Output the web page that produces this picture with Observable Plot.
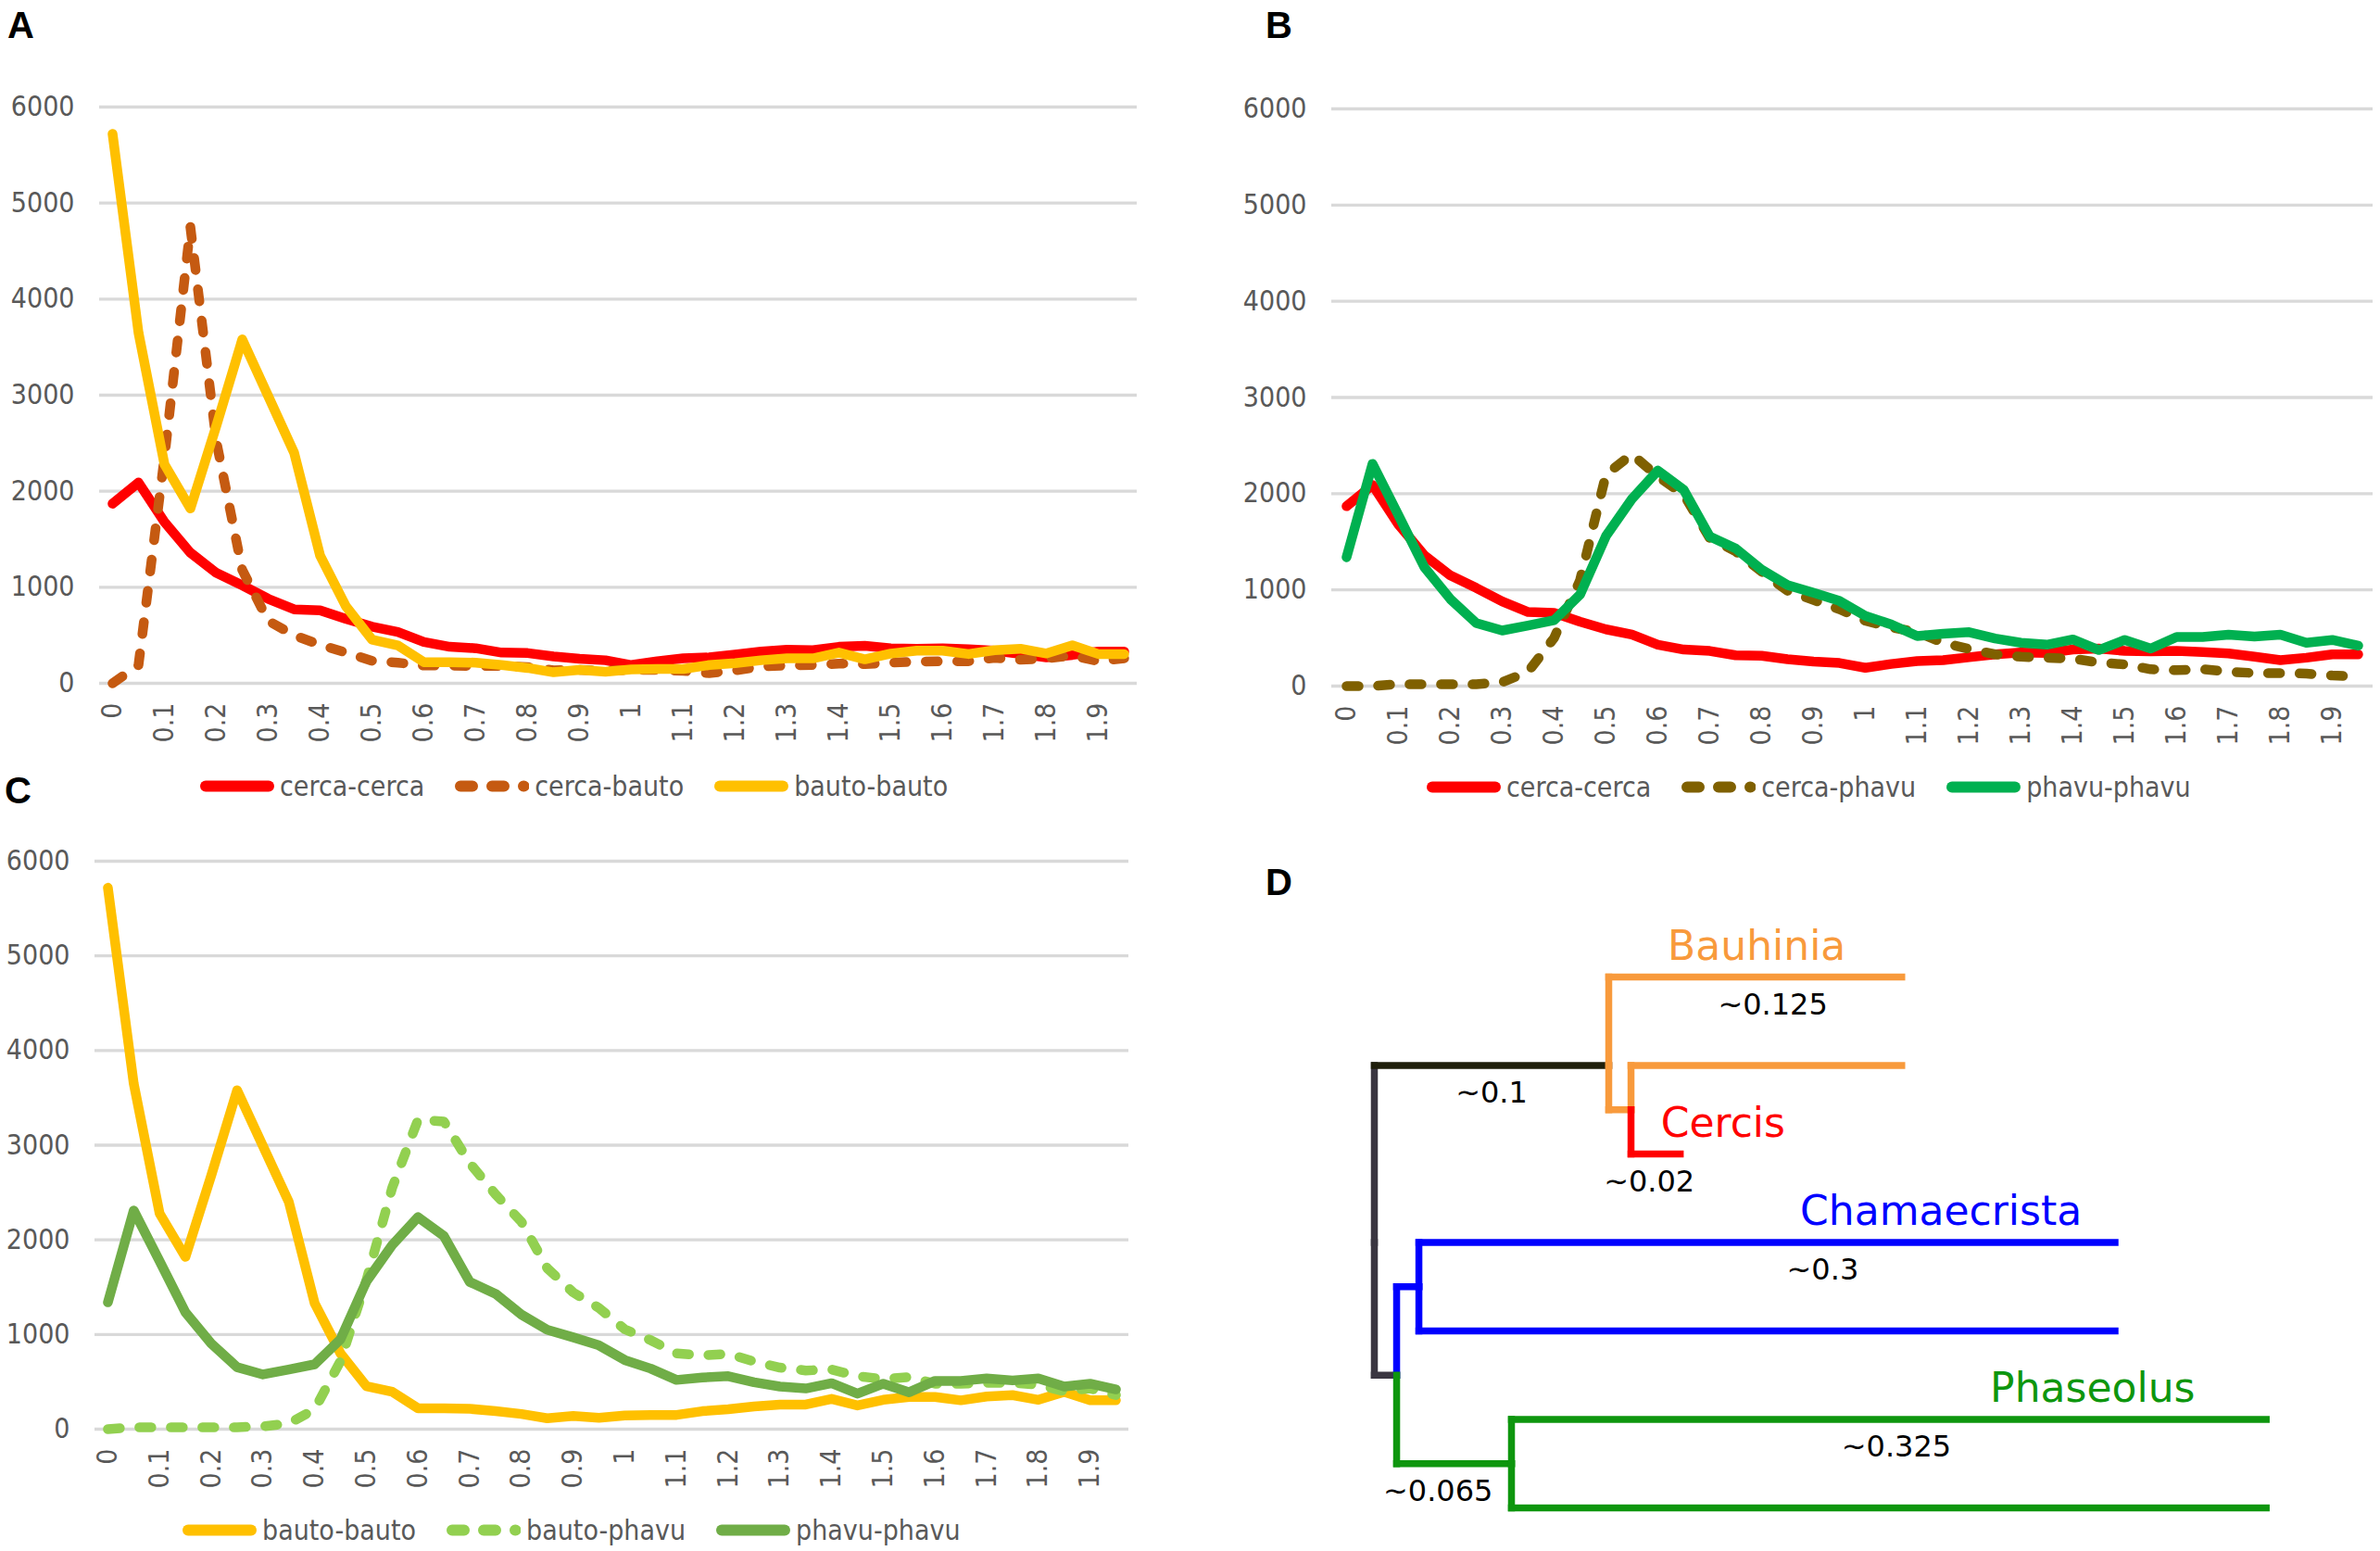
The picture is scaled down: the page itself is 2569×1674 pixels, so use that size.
<!DOCTYPE html>
<html><head><meta charset="utf-8">
<script src="https://cdn.jsdelivr.net/npm/d3@7"></script>
<script src="https://cdn.jsdelivr.net/npm/@observablehq/plot@0.6"></script>
<style>
body{margin:0;background:#fff;}
#fig{position:relative;width:2569px;height:1674px;overflow:hidden;background:#fff;}
.panel{position:absolute;}
.letter{position:absolute;font-family:"Liberation Sans",Arial,sans-serif;font-weight:bold;font-size:40px;line-height:1;color:#000;}
.legend{position:absolute;display:flex;align-items:center;gap:33px;transform:translateY(-50%);font-family:"DejaVu Sans Condensed","DejaVu Sans",sans-serif;font-stretch:condensed;font-size:30px;color:#595959;white-space:nowrap;}
.item{display:flex;align-items:center;gap:6px;}
.item svg{display:block;}
</style></head><body><div id="fig"></div>
<script>
// ---------- data ----------
const distances = [0,0.05,0.1,0.15,0.2,0.25,0.3,0.35,0.4,0.45,0.5,0.55,0.6,0.65,0.7,0.75,0.8,0.85,0.9,0.95,1,1.05,1.1,1.15,1.2,1.25,1.3,1.35,1.4,1.45,1.5,1.55,1.6,1.65,1.7,1.75,1.8,1.85,1.9,1.95];
const xTickLabels = ["0","0.1","0.2","0.3","0.4","0.5","0.6","0.7","0.8","0.9","1","1.1","1.2","1.3","1.4","1.5","1.6","1.7","1.8","1.9"];
const yTicks = [0,1000,2000,3000,4000,5000,6000];
const yTickLabels = ["0","1000","2000","3000","4000","5000","6000"];

const cercaCerca = [1870,2090,1680,1360,1150,1020,880,770,760,670,590,535,430,380,365,320,315,280,255,240,190,230,260,270,300,330,350,345,380,390,365,360,365,355,340,305,270,295,330,330];
const cercaBauto = [0,190,2350,4750,2520,1180,650,500,400,320,235,215,185,185,180,180,170,135,140,130,140,140,130,105,135,175,185,190,205,200,215,225,230,230,265,245,260,290,230,260];
const bautoBauto = [5720,3650,2280,1820,2680,3580,2990,2400,1330,800,455,395,220,220,215,190,160,115,140,120,145,150,150,190,210,240,260,260,320,250,310,340,340,305,345,360,310,395,305,305];
const cercaPhavu = [0,0,20,20,20,20,40,150,500,1100,2200,2410,2180,1990,1540,1400,1190,990,895,800,680,610,560,450,385,330,305,295,285,245,225,175,165,175,150,135,135,130,110,98];
const phavuPhavu = [1340,2310,1775,1235,905,655,578,630,685,950,1560,1945,2240,2040,1555,1430,1210,1050,970,885,730,640,520,545,560,495,450,430,485,375,480,390,510,510,535,515,535,450,480,420];
const bautoPhavu = [0,20,20,20,20,20,30,60,210,720,1570,2550,3270,3250,2810,2480,2190,1700,1445,1280,1055,940,800,780,795,715,650,620,630,560,530,550,480,480,490,490,470,400,430,360];

const panelLetters = ["A","B","C","D"];
const seriesNames = {
  A: ["cerca-cerca","cerca-bauto","bauto-bauto"],
  B: ["cerca-cerca","cerca-phavu","phavu-phavu"],
  C: ["bauto-bauto","bauto-phavu","phavu-phavu"]
};

// tree: branch lengths as drawn (schematic phylogram)
const treeNodes = [
  {id:"root",      parent:null,   len:0,      clade:"stem"},
  {id:"BC",        parent:"root", len:0.1,    clade:"stemUpper"},
  {id:"Bauhinia1", parent:"BC",   len:0.125,  clade:"bauhinia"},
  {id:"BC2",       parent:"BC",   len:0.0095, clade:"bauhinia"},
  {id:"Bauhinia2", parent:"BC2",  len:0.1155, clade:"bauhinia"},
  {id:"Cercis",    parent:"BC2",  len:0.021,  clade:"cercis"},
  {id:"CP",        parent:"root", len:0.0095, clade:"stem"},
  {id:"Cham",      parent:"CP",   len:0.0095, clade:"chamaecrista"},
  {id:"Cham1",     parent:"Cham", len:0.297,  clade:"chamaecrista"},
  {id:"Cham2",     parent:"Cham", len:0.297,  clade:"chamaecrista"},
  {id:"Phas",      parent:"CP",   len:0.049,  clade:"phaseolus"},
  {id:"Phas1",     parent:"Phas", len:0.322,  clade:"phaseolus"},
  {id:"Phas2",     parent:"Phas", len:0.322,  clade:"phaseolus"}
];
const treeLabels = [
  {node:"Bauhinia1", text:"Bauhinia",     kind:"name"},
  {node:"Bauhinia1", text:"~0.125",       kind:"length"},
  {node:"BC",        text:"~0.1",         kind:"length"},
  {node:"Cercis",    text:"Cercis",       kind:"name"},
  {node:"Cercis",    text:"~0.02",        kind:"length"},
  {node:"Cham1",     text:"Chamaecrista", kind:"name"},
  {node:"Cham1",     text:"~0.3",         kind:"length"},
  {node:"Phas1",     text:"Phaseolus",    kind:"name"},
  {node:"Phas1",     text:"~0.325",       kind:"length"},
  {node:"Phas",      text:"~0.065",       kind:"length"}
];

// ---------- styles ----------
const chartFont = "'DejaVu Sans Condensed','DejaVu Sans',sans-serif";
const lineStyles = {
  "cerca-cerca": {stroke:"#ff0000"},
  "cerca-bauto": {stroke:"#c55a11", dash:"13,21"},
  "bauto-bauto": {stroke:"#ffc000"},
  "cerca-phavu": {stroke:"#7f6000", dash:"13,21"},
  "phavu-phavu-B": {stroke:"#00b050"},
  "bauto-phavu": {stroke:"#92d050", dash:"13,21"},
  "phavu-phavu-C": {stroke:"#70ad47"}
};
const cladeColors = {
  stem:{v:"#3a3641",h:"#3a3641"},
  stemUpper:{v:"#3a3641",h:"#1f1f0b"},
  bauhinia:{v:"#f89a3c",h:"#f89a3c"},
  cercis:{v:"#ff0000",h:"#ff0000"},
  chamaecrista:{v:"#0000ff",h:"#0000ff"},
  phaseolus:{v:"#0e960e",h:"#0e960e"}
};

const fig = document.getElementById("fig");

function place(el, left, top){
  el.classList.add("panel");
  el.style.left = left+"px"; el.style.top = top+"px";
  fig.appendChild(el);
}

function lineChart(cfg){
  const xTickValues = xTickLabels.map(Number);
  const marks = [
    Plot.gridY(yTicks, {stroke:"#d9d9d9", strokeOpacity:1, strokeWidth:3.3}),
    Plot.axisY(yTicks, {tickSize:0, tickPadding:27, fontSize:30, fill:"#595959", label:null,
      tickFormat: d => yTickLabels[yTicks.indexOf(d)]}),
    Plot.axisX(xTickValues, {tickSize:0, tickPadding:21, tickRotate:-90, textAnchor:"end", lineAnchor:"middle",
      fontSize:30, fill:"#595959", label:null,
      tickFormat: d => xTickLabels[xTickValues.indexOf(d)]})
  ];
  for (const s of cfg.series){
    const st = lineStyles[s.style];
    const rows = distances.map((d,i)=>({d, v:s.values[i]}));
    marks.push(Plot.lineY(rows, {x:"d", y:"v", stroke:st.stroke, strokeWidth:10.5,
      strokeLinecap:"round", strokeLinejoin:"round", strokeDasharray:st.dash}));
  }
  return Plot.plot({
    width:cfg.width, height:cfg.height,
    marginLeft:cfg.ml, marginRight:cfg.mr, marginTop:cfg.mt, marginBottom:cfg.mb,
    style:{fontFamily:chartFont, fontStretch:"condensed", background:"transparent", overflow:"visible"},
    x:{type:"point", domain:distances, padding:0.5, align:0.5},
    y:{domain:[0,6000]},
    marks
  });
}

function legend(names, styles, left, centerY){
  const div = document.createElement("div");
  div.className = "legend";
  div.style.left = left+"px"; div.style.top = centerY+"px";
  names.forEach((n,i)=>{
    const st = lineStyles[styles[i]];
    const item = document.createElement("div"); item.className="item";
    const x2 = st.dash ? 74.5 : 74;
    item.innerHTML = `<svg width="80" height="14"><line x1="6" y1="7" x2="${x2}" y2="7" stroke="${st.stroke}" stroke-width="12" stroke-linecap="round" ${st.dash?`stroke-dasharray="${st.dash}"`:""}/></svg><span>${n}</span>`;
    div.appendChild(item);
  });
  fig.appendChild(div);
}

function letter(t, left, top){
  const d = document.createElement("div"); d.className="letter"; d.textContent=t;
  d.style.left=left+"px"; d.style.top=top+"px"; fig.appendChild(d);
}

// Panel A
place(lineChart({width:1240,height:830,ml:107,mr:13,mt:115,mb:93,
  series:[{values:cercaCerca,style:"cerca-cerca"},{values:cercaBauto,style:"cerca-bauto"},{values:bautoBauto,style:"bauto-bauto"}]}),0,0);
legend(seriesNames.A, ["cerca-cerca","cerca-bauto","bauto-bauto"], 216, 848);

// Panel B
place(lineChart({width:1239,height:830,ml:107,mr:8,mt:117,mb:90,
  series:[{values:cercaCerca,style:"cerca-cerca"},{values:cercaPhavu,style:"cerca-phavu"},{values:phavuPhavu,style:"phavu-phavu-B"}]}),1330,0);
legend(seriesNames.B, ["cerca-cerca","cerca-phavu","phavu-phavu-B"], 1540, 849);

// Panel C
place(lineChart({width:1240,height:760,ml:102,mr:22,mt:59,mb:88,
  series:[{values:bautoBauto,style:"bauto-bauto"},{values:bautoPhavu,style:"bauto-phavu"},{values:phavuPhavu,style:"phavu-phavu-C"}]}),0,870);
legend(seriesNames.C, ["bauto-bauto","bauto-phavu","phavu-phavu-C"], 197, 1651);

// Panel D: tree layout from topology and branch lengths
const byId = new Map(treeNodes.map(n=>[n.id,{...n,children:[]}]));
for (const n of byId.values()) if (n.parent) byId.get(n.parent).children.push(n);
let leafIdx = 0;
(function layout(n, x){
  n.x = x + n.len;
  if (n.children.length===0){ n.y = leafIdx++; n.leaves=[n.y]; }
  else {
    n.leaves = [];
    for (const c of n.children){ layout(c, n.x); n.leaves.push(...c.leaves); }
    n.y = d3.mean(n.leaves);
  }
})(byId.get("root"), 0);

const segments = [];
for (const n of byId.values()){
  if (!n.parent) continue;
  const p = byId.get(n.parent), col = cladeColors[n.clade];
  segments.push({x1:p.x, y1:p.y, x2:p.x, y2:n.y, color:col.v});
  segments.push({x1:p.x, y1:n.y, x2:n.x, y2:n.y, color:col.h});
}
const along = {"Bauhinia":0.505,"~0.125":0.56,"~0.1":0.5,"Cercis":1.87,"~0.02":0.37,"Chamaecrista":0.75,"~0.3":0.58,"Phaseolus":0.77,"~0.325":0.51,"~0.065":0.36};
const labelRows = treeLabels.map(l=>{
  const n = byId.get(l.node), p = byId.get(n.parent);
  return {...l, x: p.x + along[l.text]*(n.x-p.x), y:n.y, color: l.kind==="name" ? cladeColors[n.clade].h : "#000"};
});

const tree = Plot.plot({
  width:1239, height:804, margin:0, axis:null,
  style:{fontFamily:"'DejaVu Sans',sans-serif", background:"transparent", overflow:"visible"},
  x:{domain:[0,0.4], range:[153,1165]},
  y:{domain:[0,6], range:[184,757]},
  marks:[
    Plot.link(segments, {x1:"x1", y1:"y1", x2:"x2", y2:"y2", stroke:"color", strokeWidth:7.5, strokeLinecap:"square"}),
    Plot.text(labelRows.filter(d=>d.kind==="name"), {x:"x", y:"y", text:"text", fill:"color", fontSize:44, lineAnchor:"bottom", dy:-19}),
    Plot.text(labelRows.filter(d=>d.kind==="length"), {x:"x", y:"y", text:"text", fill:"color", fontSize:32, lineAnchor:"bottom", dy:40})
  ]
});
place(tree, 1330, 870);

letter(panelLetters[0], 8, 7);
letter(panelLetters[1], 1366, 7);
letter(panelLetters[2], 5, 833);
letter(panelLetters[3], 1366, 932);
</script></body></html>
